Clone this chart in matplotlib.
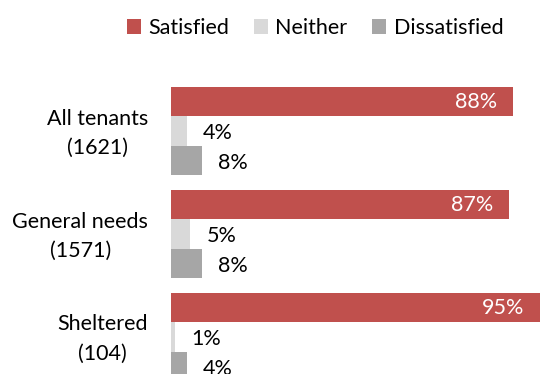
import numpy as np
import matplotlib.pyplot as plt
import matplotlib.transforms as mtransforms

groups = ["All tenants\n(1621)", "General needs\n(1571)", "Sheltered\n(104)"]
satisfied = [88, 87, 95]
neither = [4, 5, 1]
dissatisfied = [8, 8, 4]

series = ["Satisfied", "Neither", "Dissatisfied"]
colors = ["#C0504D", "#D9D9D9", "#A6A6A6"]

plt.rcParams["font.family"] = ["Lato", "DejaVu Sans"]

W, H = 541, 374
fig = plt.figure(figsize=(W / 100, H / 100), dpi=100)

# axes run past the right edge so the longest bar touches it
left = 171
unit = 342 / 88.0  # pixels per percent
ax = fig.add_axes([left / W, 0, 100 * unit / W, 1])

pitch = 103.0
first_center = 131.0
h = 29.5 / pitch
ax.set_ylim(2 + (H - (first_center + 2 * pitch)) / pitch, -first_center / pitch)
ax.set_xlim(0, 100)

y = np.arange(len(groups))
bars_s = ax.barh(y - h, satisfied, height=h, color=colors[0], label=series[0])
bars_n = ax.barh(y, neither, height=h, color=colors[1], label=series[1])
bars_d = ax.barh(y + h, dissatisfied, height=h, color=colors[2], label=series[2])

fs = 15.5
for b, v in zip(bars_s, satisfied):
    ax.annotate(f"{v}%", (b.get_width(), b.get_y() + b.get_height() / 2),
                xytext=(-11.5, 0), textcoords="offset points",
                ha="right", va="center", color="white", fontsize=fs)
for bars, vals in ((bars_n, neither), (bars_d, dissatisfied)):
    for b, v in zip(bars, vals):
        ax.annotate(f"{v}%", (b.get_width(), b.get_y() + b.get_height() / 2),
                    xytext=(11.5, -1.5), textcoords="offset points",
                    ha="left", va="center", color="black", fontsize=fs)

ax.set_yticks(y)
ax.set_yticklabels(groups, fontsize=fs, multialignment="center", linespacing=1.6)
ax.tick_params(axis="y", length=0, pad=16.5)
# nudge the group labels up a little
shift = mtransforms.ScaledTranslation(0, 0.045, fig.dpi_scale_trans)
for lab in ax.get_yticklabels():
    lab.set_transform(lab.get_transform() + shift)
ax.set_xticks([])
for s in ax.spines.values():
    s.set_visible(False)

fig.legend(loc="center", bbox_to_anchor=(315 / W, 1 - 28 / H), ncol=3,
           frameon=False, fontsize=fs, handlelength=0.65, handleheight=0.65,
           handletextpad=0.35, columnspacing=1.15)

fig.savefig("out.png", dpi=100)
